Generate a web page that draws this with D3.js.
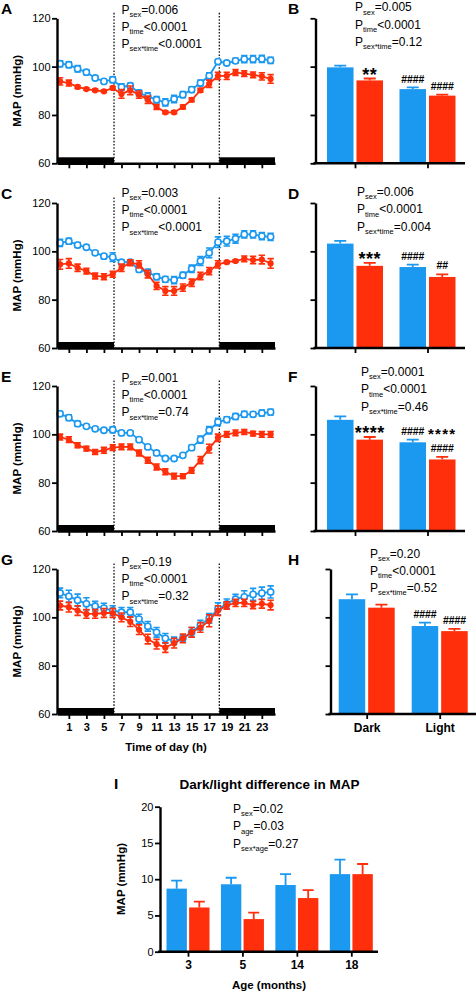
<!DOCTYPE html>
<html><head><meta charset="utf-8">
<script src="https://cdn.jsdelivr.net/npm/d3@7"></script>
<style>
body{margin:0;background:#fff}
svg{display:block}
text{font-family:"Liberation Sans",Arial,Helvetica,sans-serif;fill:#000}
</style>
</head><body>
<svg id="c" width="476" height="992"></svg>
<script>
// ---------------- DATA ----------------
const hours = [0,1,2,3,4,5,6,7,8,9,10,11,12,13,14,15,16,17,18,19,20,21,22,23,24];
const hourTicks = [1,3,5,7,9,11,13,15,17,19,21,23];
const yTicks = [60,80,100,120];
const lightsSwitch = [6.15, 18.15];
const darkPeriods = [[-0.35, 6.15],[18.15, 24.5]];

// Panel A
const aBlue    = [101.2,100.8,99.1,97.7,95.3,93.9,94.6,91.6,92.1,89.1,87.7,86.3,85.2,86.6,88.4,90.5,93.2,96.2,102.1,101.5,102.4,103.1,103.1,103.2,102.6];
const aBlueSem = [1.2,1.2,1.3,1.0,0.8,0.8,1.2,1.3,1.0,1.2,1.5,1.3,1.5,1.5,1.3,1.2,1.2,1.3,0.8,0.8,1.0,1.5,1.5,1.5,1.3];
const aRed     = [93.9,93.2,91.6,90.7,90.2,89.8,91.2,88.7,90.2,88.4,86.3,83.3,81.1,81.1,83.3,86.3,90.2,92.9,96.2,96.2,97.6,97.1,96.6,96.0,94.9];
const aRedSem  = [1.5,1.2,0.6,0.5,0.5,0.5,0.6,1.8,1.8,1.5,1.5,1.0,0.6,0.6,0.8,0.8,0.8,1.5,1.5,1.5,1.2,1.2,1.2,1.5,1.8];
// Panel C
const cBlue    = [103.5,104.2,102.6,101.7,99.4,98.0,97.6,95.5,95.5,92.5,91.4,89.5,88.4,88.1,90.1,92.8,96.0,99.4,103.8,104.2,105.2,107.0,107.0,106.3,106.0];
const cBlueSem = [1.5,1.2,1.0,0.8,0.8,1.0,1.8,1.0,1.0,1.0,1.2,1.2,1.2,1.5,1.2,1.5,1.8,2.0,2.2,2.0,1.8,1.5,1.5,1.5,1.5];
const cRed     = [94.6,95.0,93.2,91.8,89.8,89.5,90.5,93.2,95.3,94.6,90.5,85.7,83.6,83.6,85.0,87.0,89.8,91.8,94.6,95.5,96.0,96.9,96.4,96.6,95.0];
const cRedSem  = [2.0,2.0,1.5,1.2,1.2,1.2,1.2,1.5,1.2,1.5,1.5,1.5,1.8,1.8,1.5,1.5,1.5,1.5,1.5,0.5,0.5,1.2,1.5,1.8,2.0];
// Panel E
const eBlue    = [108.5,106.9,104.4,103.3,102.3,101.7,101.9,100.6,100.6,97.8,94.8,92.3,90.0,90.0,91.3,94.5,97.8,101.7,105.1,106.1,107.4,108.3,108.3,108.8,109.2];
const eBlueSem = [1.0,1.2,1.0,0.8,0.8,0.8,1.2,0.8,0.8,0.8,0.8,0.8,0.8,0.8,0.8,1.0,1.5,1.5,1.5,1.2,1.2,1.2,1.0,1.2,1.2];
const eRed     = [98.9,97.8,95.5,94.1,92.7,93.4,94.5,94.8,94.8,92.3,89.3,86.5,84.5,82.7,82.7,85.1,89.3,94.1,98.6,100.0,100.6,101.0,100.3,100.0,100.0];
const eRedSem  = [1.2,1.2,1.0,1.0,1.0,1.2,1.2,1.2,1.2,1.2,1.2,1.2,1.2,1.2,1.0,1.2,1.5,1.8,1.5,1.2,1.2,1.0,1.0,1.2,1.2];
// Panel G
const gBlue    = [110.1,108.7,107.1,105.6,104.6,103.8,102.8,102.1,102.1,99.3,96.3,93.8,91.3,90.3,91.3,93.8,96.8,99.6,103.5,105.6,107.5,108.5,109.5,110.0,110.5];
const gBlueSem = [2.0,2.5,2.5,2.5,2.0,2.0,2.0,2.0,2.0,2.0,2.0,2.0,2.0,1.5,1.5,2.0,2.0,2.0,2.5,2.0,2.0,2.5,2.5,2.5,2.5];
const gRed     = [104.9,104.2,102.8,101.4,101.4,101.8,101.8,100.0,98.2,94.9,91.0,88.9,87.5,89.3,91.3,93.8,95.8,98.6,102.8,104.9,106.0,106.0,105.1,105.6,105.1];
const gRedSem  = [1.8,2.0,2.0,1.8,1.8,1.8,1.8,1.8,2.0,2.0,2.0,2.0,2.0,2.0,1.8,2.0,2.0,2.5,2.0,1.5,1.5,1.5,1.5,1.8,2.0];

// Bar panels (Dark, Light)
const periods = ["Dark","Light"];
const bBlue = [99.7, 90.7],  bBlueSem = [0.7, 0.7],  bRed = [94.3, 88.0], bRedSem = [0.8, 0.4];
const dBlue = [103.2, 93.5], dBlueSem = [1.1, 1.0],  dRed = [94.0, 89.4], dRedSem = [1.2, 1.1];
const fBlue = [106.0, 96.7], fBlueSem = [1.4, 1.1],  fRed = [97.8, 89.6], fRedSem = [1.1, 1.1];
const hBlue = [107.5, 96.4], hBlueSem = [2.0, 1.4],  hRed = [104.0, 94.3], hRedSem = [1.3, 0.9];
const bAnnBlue = [[],["####"]],  bAnnRed = [["**"],["####"]];
const dAnnBlue = [[],["####"]],  dAnnRed = [["***"],["##"]];
const fAnnBlue = [[],["####"]],  fAnnRed = [["****"],["****","####"]];
const hAnnBlue = [[],["####"]],  hAnnRed = [[],["####"]];

// Panel I
const ages = ["3","5","14","18"];
const iBlue = [8.7, 9.3, 9.2, 10.7], iBlueSem = [1.1, 0.9, 1.5, 2.0];
const iRed  = [6.1, 4.5, 7.4, 10.7], iRedSem  = [0.8, 0.9, 1.1, 1.4];
const iTicks = [0,5,10,15,20];

// Stats text
const statsA = [["sex","=0.006"],["time","<0.0001"],["sex*time","<0.0001"]];
const statsB = [["sex","=0.005"],["time","<0.0001"],["sex*time","=0.12"]];
const statsC = [["sex","=0.003"],["time","<0.0001"],["sex*time","<0.0001"]];
const statsD = [["sex","=0.006"],["time","<0.0001"],["sex*time","=0.004"]];
const statsE = [["sex","=0.001"],["time","<0.0001"],["sex*time","=0.74"]];
const statsF = [["sex","=0.0001"],["time","<0.0001"],["sex*time","=0.46"]];
const statsG = [["sex","=0.19"],["time","<0.0001"],["sex*time","=0.32"]];
const statsH = [["sex","=0.20"],["time","<0.0001"],["sex*time","=0.52"]];
const statsI = [["sex","=0.02"],["age","=0.03"],["sex*age","=0.27"]];

// ---------------- DRAWING ----------------
const BLUE = "#1b98f0", RED = "#fe2f0a";
const svg = d3.select("#c");

function styleAxis(sel, w){
  sel.select(".domain").attr("stroke","#000").attr("stroke-width",w);
  sel.selectAll(".tick line").attr("stroke","#000").attr("stroke-width",1.8);
  sel.selectAll(".tick text").attr("fill","#000").attr("font-family",'"Liberation Sans",Arial,sans-serif');
}

function stats(x, yc0, step, lines){
  lines.forEach((l,i)=>{
    const t = svg.append("text").attr("x",x).attr("y",yc0+i*step+4.3).attr("font-size",12);
    t.append("tspan").text("P");
    t.append("tspan").attr("font-size",7.5).attr("dy",3.2).text(l[0]);
    t.append("tspan").attr("dy",-3.2).text(l[1]);
  });
}

function letter(txt, x, yBase){
  svg.append("text").attr("x",x).attr("y",yBase).attr("font-size",15.5).attr("font-weight","bold").text(txt);
}

function yTitle(x, cy, txt){
  svg.append("text").attr("transform",`translate(${x},${cy}) rotate(-90)`)
    .attr("text-anchor","middle").attr("font-size",11.5).attr("font-weight","bold").text(txt);
}

function errBars(g, xs, ys, ms, ss, color, cap){
  g.selectAll(null).data(ms).enter().append("path")
    .attr("d",(m,i)=>{
      const x = xs(hours[i]), y1 = ys(m-ss[i]), y2 = ys(m+ss[i]);
      return `M${x},${y1}V${y2}M${x-cap},${y1}H${x+cap}M${x-cap},${y2}H${x+cap}`;
    })
    .attr("stroke",color).attr("stroke-width",1.6).attr("fill","none");
}

function linePanel(p){
  const x = d3.scaleLinear().domain([-0.35,24.5]).range([57,275]);
  const y = d3.scaleLinear().domain([60,120]).range([p.top+145,p.top]);
  const g = svg.append("g");
  lightsSwitch.forEach(h=>{
    g.append("line").attr("x1",x(h)).attr("x2",x(h)).attr("y1",p.top-5.5).attr("y2",y(60))
     .attr("stroke","#000").attr("stroke-width",1.2).attr("stroke-dasharray","1.6,1.6");
  });
  darkPeriods.forEach(([a,b])=>{
    g.append("rect").attr("x",x(a)).attr("width",x(b)-x(a)).attr("y",y(60)-6).attr("height",6).attr("fill","#000");
  });
  const line = d3.line().x((d,i)=>x(hours[i])).y(d=>y(d));
  errBars(g, x, y, p.blue, p.blueSem, BLUE, 3.2);
  g.append("path").datum(p.blue).attr("d",line).attr("fill","none").attr("stroke",BLUE).attr("stroke-width",1.8);
  g.selectAll(null).data(p.blue).enter().append("circle")
    .attr("cx",(d,i)=>x(hours[i])).attr("cy",d=>y(d)).attr("r",3.1)
    .attr("fill","#fff").attr("stroke",BLUE).attr("stroke-width",1.6);
  errBars(g, x, y, p.red, p.redSem, RED, 3.2);
  g.append("path").datum(p.red).attr("d",line).attr("fill","none").attr("stroke",RED).attr("stroke-width",1.8);
  g.selectAll(null).data(p.red).enter().append("circle")
    .attr("cx",(d,i)=>x(hours[i])).attr("cy",d=>y(d)).attr("r",3.1).attr("fill",RED);
  const ya = g.append("g").attr("transform",`translate(57,0)`)
    .call(d3.axisLeft(y).tickValues(yTicks).tickSize(5).tickSizeOuter(0).tickPadding(1.5));
  styleAxis(ya, 2.4);
  ya.selectAll(".tick text").attr("font-size",11);
  const xa = g.append("g").attr("transform",`translate(0,${y(60)})`)
    .call(d3.axisBottom(x).tickValues(hourTicks).tickSize(5).tickSizeOuter(0).tickPadding(4)
      .tickFormat(p.showX ? d3.format("d") : ""));
  styleAxis(xa, 2.4);
  xa.selectAll(".tick text").attr("font-size",11).attr("font-weight","bold");
  if(p.showX){
    svg.append("text").attr("x",166).attr("y",p.top+145+37).attr("text-anchor","middle")
      .attr("font-size",11.5).attr("font-weight","bold").text("Time of day (h)");
  }
  yTitle(21, p.top+72.5, "MAP (mmHg)");
  letter(p.letter, 1, p.top-4);
  stats(121.5, p.top+p.statsDY, 17.2, p.stats);
}

// annotations stacked upward from the error-bar cap; boxes kept apart
const ASC = 0.905, DESC = 0.212;
function annotate(g, xc, yTop, lines){
  let prevTop = null;
  for(let k = lines.length-1; k >= 0; k--){
    const s = lines[k];
    const isStar = s.includes("*");
    const fs = isStar ? (lines.length > 1 ? 15 : 18) : 10.5;
    const inkOff = isStar ? 0.59*fs : 0.35*fs;
    let base = (yTop - 8.5) + inkOff;
    if(prevTop !== null) base = Math.min(base, prevTop - DESC*fs - 0.3);
    g.append("text").attr("x",xc).attr("y",base).attr("text-anchor","middle")
      .attr("font-size",fs).attr("font-weight","bold")
      .attr("letter-spacing", isStar ? (lines.length > 1 ? 1.3 : 0.5) : -0.1)
      .text(s);
    prevTop = base - ASC*fs;
  }
}

function barPanel(p){
  const y = d3.scaleLinear().domain([60,120]).range([p.top+145,p.top]);
  const x0 = d3.scalePoint().domain(periods).range(p.centers);
  const x1 = d3.scaleBand().domain(["blue","red"]).range([-28,28]).paddingInner(0.1);
  const g = svg.append("g");
  const series = [["blue",p.blue,p.blueSem,BLUE,p.annBlue],["red",p.red,p.redSem,RED,p.annRed]];
  series.forEach(([key,vals,sems,color,ann])=>{
    vals.forEach((v,i)=>{
      const bx = x0(periods[i]) + x1(key);
      const xc = bx + x1.bandwidth()/2;
      g.append("rect").attr("x",bx).attr("width",x1.bandwidth())
        .attr("y",y(v)).attr("height",y(60)-y(v)).attr("fill",color);
      g.append("path").attr("d",`M${xc},${y(v)}V${y(v+sems[i])}M${xc-6},${y(v+sems[i])}H${xc+6}`)
        .attr("stroke",color).attr("stroke-width",1.8).attr("fill","none");
      annotate(g, xc, y(v+sems[i]), ann[i]);
    });
  });
  const ya = g.append("g").attr("transform",`translate(${p.axisX},0)`)
    .call(d3.axisLeft(y).tickValues(yTicks).tickSize(5).tickSizeOuter(0).tickFormat(""));
  styleAxis(ya, 2.4);
  g.append("line").attr("x1",p.axisX-2).attr("x2",p.axisEnd).attr("y1",y(60)).attr("y2",y(60))
    .attr("stroke","#000").attr("stroke-width",2.4);
  const xa = g.append("g").attr("transform",`translate(0,${y(60)})`)
    .call(d3.axisBottom(x0).tickSize(5).tickSizeOuter(0).tickPadding(4).tickFormat(p.showX ? d=>d : ""));
  xa.select(".domain").remove();
  styleAxis(xa, 2.4);
  xa.selectAll(".tick text").attr("font-size",12).attr("font-weight","bold");
  letter(p.letter, 288, p.top-4);
  stats(p.statsX, p.top+p.statsDY, 17.3, p.stats);
}

const tops = [18.3, 203, 386, 569];
linePanel({letter:"A", top:tops[0], blue:aBlue, blueSem:aBlueSem, red:aRed, redSem:aRedSem, stats:statsA, statsDY:-9, showX:false});
linePanel({letter:"C", top:tops[1], blue:cBlue, blueSem:cBlueSem, red:cRed, redSem:cRedSem, stats:statsC, statsDY:-10.3, showX:false});
linePanel({letter:"E", top:tops[2], blue:eBlue, blueSem:eBlueSem, red:eRed, redSem:eRedSem, stats:statsE, statsDY:-8.3, showX:false});
linePanel({letter:"G", top:tops[3], blue:gBlue, blueSem:gBlueSem, red:gRed, redSem:gRedSem, stats:statsG, statsDY:-7.3, showX:true});

barPanel({letter:"B", top:tops[0], axisX:315.5, axisEnd:465, centers:[355,427.5], blue:bBlue, blueSem:bBlueSem, red:bRed, redSem:bRedSem, annBlue:bAnnBlue, annRed:bAnnRed, stats:statsB, statsX:355, statsDY:-11.3, showX:false});
barPanel({letter:"D", top:tops[1], axisX:315.5, axisEnd:465, centers:[355,427.5], blue:dBlue, blueSem:dBlueSem, red:dRed, redSem:dRedSem, annBlue:dAnnBlue, annRed:dAnnRed, stats:statsD, statsX:357, statsDY:-11.3, showX:false});
barPanel({letter:"F", top:tops[2], axisX:315.5, axisEnd:465, centers:[355,427.5], blue:fBlue, blueSem:fBlueSem, red:fRed, redSem:fRedSem, annBlue:fAnnBlue, annRed:fAnnRed, stats:statsF, statsX:361, statsDY:-14.3, showX:false});
barPanel({letter:"H", top:tops[3], axisX:330.5, axisEnd:476, centers:[366.7,439.7], blue:hBlue, blueSem:hBlueSem, red:hRed, redSem:hRedSem, annBlue:hAnnBlue, annRed:hAnnRed, stats:statsH, statsX:370, statsDY:-15.7, showX:true});

// Panel I
(function(){
  const y = d3.scaleLinear().domain([0,20]).range([951.7,806.7]);
  const x0 = d3.scalePoint().domain(ages).range([188,351.3]);
  const x1 = d3.scaleBand().domain(["blue","red"]).range([-21.5,21.5]).paddingInner(0.1);
  const g = svg.append("g");
  [["blue",iBlue,iBlueSem,BLUE],["red",iRed,iRedSem,RED]].forEach(([key,vals,sems,color])=>{
    vals.forEach((v,i)=>{
      const bx = x0(ages[i]) + x1(key);
      const xc = bx + x1.bandwidth()/2;
      g.append("rect").attr("x",bx).attr("width",x1.bandwidth()).attr("y",y(v)).attr("height",y(0)-y(v)).attr("fill",color);
      g.append("path").attr("d",`M${xc},${y(v)}V${y(v+sems[i])}M${xc-5.5},${y(v+sems[i])}H${xc+5.5}`)
        .attr("stroke",color).attr("stroke-width",1.8).attr("fill","none");
    });
  });
  const ya = g.append("g").attr("transform","translate(160,0)")
    .call(d3.axisLeft(y).tickValues(iTicks).tickSize(5).tickSizeOuter(0).tickPadding(1.5));
  styleAxis(ya, 2.4);
  ya.selectAll(".tick text").attr("font-size",11);
  g.append("line").attr("x1",158).attr("x2",378).attr("y1",y(0)).attr("y2",y(0)).attr("stroke","#000").attr("stroke-width",2.4);
  const xa = g.append("g").attr("transform",`translate(0,${y(0)})`)
    .call(d3.axisBottom(x0).tickSize(5).tickSizeOuter(0).tickPadding(4));
  xa.select(".domain").remove();
  styleAxis(xa, 2.4);
  xa.selectAll(".tick text").attr("font-size",12).attr("font-weight","bold");
  svg.append("text").attr("x",269).attr("y",989).attr("text-anchor","middle")
    .attr("font-size",11.5).attr("font-weight","bold").text("Age (months)");
  yTitle(125, 879, "MAP (mmHg)");
  letter("I", 114, 789);
  svg.append("text").attr("x",269.5).attr("y",788.5).attr("text-anchor","middle")
    .attr("font-size",13.5).attr("font-weight","bold").text("Dark/light difference in MAP");
  stats(233, 808.5, 17.5, statsI);
})();
</script>
</body></html>
